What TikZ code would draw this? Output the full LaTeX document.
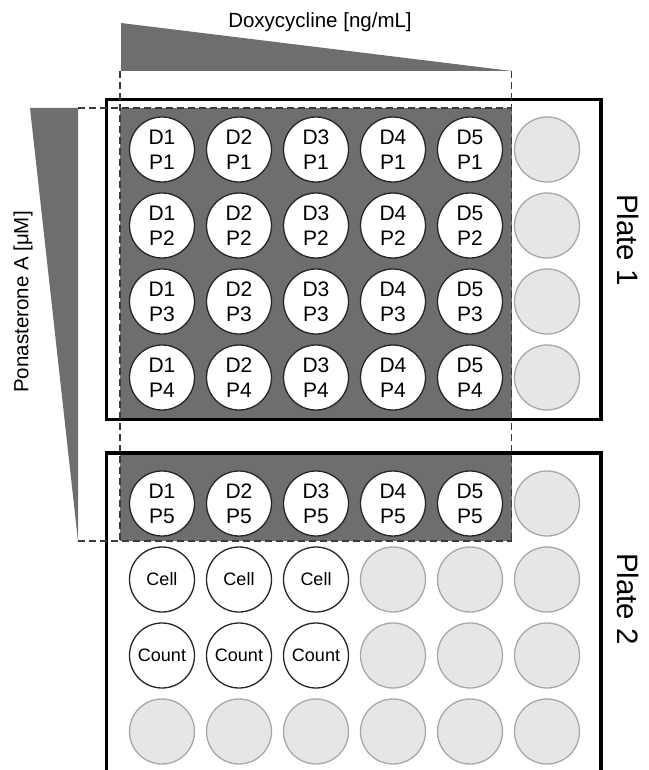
\documentclass[tikz,border=0pt]{standalone}
\usepackage{fontspec}
\setmainfont{Liberation Sans}
\definecolor{darkfill}{HTML}{6E6E6E}
\definecolor{emptyfill}{HTML}{E6E6E6}
\definecolor{emptyline}{HTML}{A8A8A8}
\definecolor{dashcol}{HTML}{3A3A3A}
\tikzset{
  well/.style={circle, draw=black!85, line width=1.3pt, fill=white, minimum size=65pt, inner sep=0pt, align=center, font=\fontsize{21}{25}\selectfont},
  smallwell/.style={well, font=\fontsize{18}{20}\selectfont},
  emptywell/.style={circle, draw=emptyline, line width=1.3pt, fill=emptyfill, minimum size=65pt, inner sep=0pt},
  platebox/.style={draw=black, line width=3.5pt},
  dashline/.style={draw=dashcol, line width=1.4pt, dash pattern=on 7pt off 4pt},
  lbl/.style={font=\fontsize{20.5}{24}\selectfont},
  platelabel/.style={font=\fontsize{29.5}{32}\selectfont, rotate=-90}
}
\begin{document}
\begin{tikzpicture}[x=1pt,y=-1pt]
\useasboundingbox (0,0) rectangle (648,770);
\clip (0,0) rectangle (648,770);
% gradient triangles
\fill[darkfill] (121,23) -- (121,71) -- (511.7,71) -- cycle;
\fill[darkfill] (30,108) -- (78,108) -- (78,541) -- cycle;
% shaded regions
\fill[darkfill] (120,108) rectangle (511.7,419);
\fill[darkfill] (120,453) rectangle (511.7,541);
% plates
\draw[platebox] (106.5,99.5) rectangle (601,419.5);
\draw[platebox] (106.5,790) -- (106.5,453) -- (601,453) -- (601,790);
% dashed outline
\draw[dashline] (78,108) -- (511.7,108);
\draw[dashline] (78,541) -- (511.7,541);
\draw[dashline] (120,71) -- (120,541);
\draw[dashline] (511.7,71) -- (511.7,541);
% plate 1 wells
\foreach \c in {1,...,5}{
  \foreach \r in {1,...,4}{
    \node[well] (w\c\r) at ({162+77*(\c-1)},{149.5+76*(\r-1)}) {D\c\\P\r};
  }
  \node[well] (w\c5) at ({162+77*(\c-1)},503.5) {D\c\\P5};
}
\foreach \r in {1,...,4}{
  \node[emptywell] (e\r) at (547,{149.5+76*(\r-1)}) {};
}
\node[emptywell] (f5) at (547,503.5) {};
% plate 2 controls
\foreach \c in {1,2,3}{
  \node[smallwell] (cell\c) at ({162+77*(\c-1)},579.5) {Cell};
  \node[smallwell] (count\c) at ({162+77*(\c-1)},655.5) {Count};
}
\foreach \c in {4,5,6}{
  \node[emptywell] (g\c) at ({162+77*(\c-1)},579.5) {};
  \node[emptywell] (h\c) at ({162+77*(\c-1)},655.5) {};
}
\foreach \c in {1,...,6}{
  \node[emptywell] (k\c) at ({162+77*(\c-1)},731.5) {};
}
% labels
\node[lbl, anchor=base] (doxy) at (320,27.7) {Doxycycline [ng/mL]};
\node[lbl, rotate=90] (pona) at (23,302) {Ponasterone A [μM]};
\node[platelabel] (plate1) at (628,240) {Plate 1};
\node[platelabel] (plate2) at (628,599) {Plate 2};
\end{tikzpicture}
\end{document}
